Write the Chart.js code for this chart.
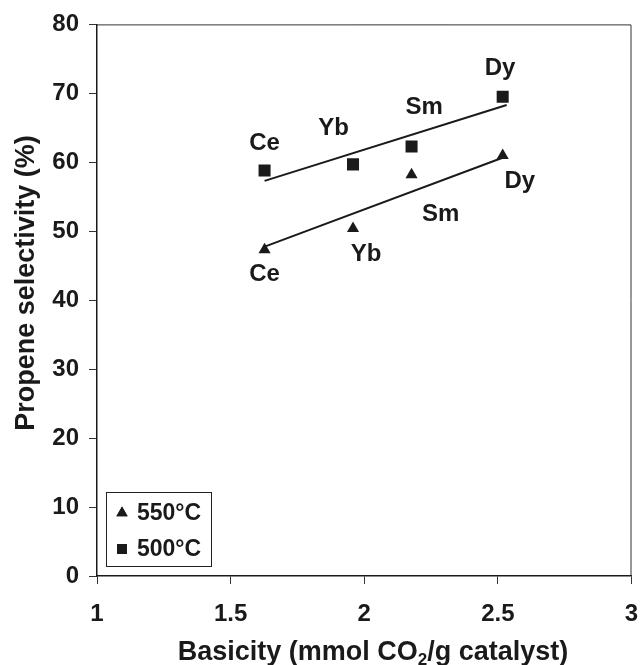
<!DOCTYPE html>
<html>
<head>
<meta charset="utf-8">
<script src="https://cdn.jsdelivr.net/npm/chart.js@4/dist/chart.umd.min.js"></script>
<style>
    html, body { margin: 0; padding: 0; background: #fff; }
    #wrap { width: 640px; height: 665px; }
</style>
</head>
<body>
<div id="wrap"><canvas id="basicityChart"></canvas></div>
<script>
// catalysts and their basicity (mmol CO2/g)
const elements = ["Ce", "Yb", "Sm", "Dy"];
const basicity = [1.627, 1.958, 2.177, 2.518];

// propene selectivity (%) at the two temperatures
const sel550 = [47.3, 50.4, 58.2, 61.0];
const sel500 = [58.8, 59.7, 62.3, 69.5];

// trend line end points
const fitX500 = [1.627, 2.533];
const fitY500 = [57.3, 68.3];
const fitX550 = [1.63, 2.52];
const fitY550 = [47.8, 60.7];

// where the element names sit (data coords)
const labelX500 = [1.627, 1.885, 2.224, 2.508];
const labelY500 = [62.8, 64.9, 68.0, 73.6];
const labelX550 = [1.627, 2.007, 2.286, 2.582];
const labelY550 = [43.7, 46.7, 52.4, 57.2];

const xTicks = [1, 1.5, 2, 2.5, 3];
const yTicks = [0, 10, 20, 30, 40, 50, 60, 70, 80];

const ink = "#1a1a1a";
const fontFamily = "'Liberation Sans', Arial, sans-serif";

const toPoints = (xs, ys) => xs.map((x, i) => ({ x: x, y: ys[i] }));

const extras = {
    id: "extras",
    afterDatasetsDraw(chart) {
        const ctx = chart.ctx;
        const xs = chart.scales.x;
        const ys = chart.scales.y;
        const area = chart.chartArea;
        ctx.save();

        // top and right frame
        ctx.strokeStyle = "#333";
        ctx.lineWidth = 1;
        ctx.beginPath();
        ctx.moveTo(area.left, area.top + 0.5);
        ctx.lineTo(area.right - 0.5, area.top + 0.5);
        ctx.lineTo(area.right - 0.5, area.bottom);
        ctx.stroke();

        // element names
        ctx.fillStyle = ink;
        ctx.font = "bold 24px " + fontFamily;
        ctx.textAlign = "center";
        ctx.textBaseline = "middle";
        elements.forEach((el, i) => {
            ctx.fillText(el, xs.getPixelForValue(labelX500[i]), ys.getPixelForValue(labelY500[i]));
            ctx.fillText(el, xs.getPixelForValue(labelX550[i]), ys.getPixelForValue(labelY550[i]));
        });

        // legend box
        const lx = area.left + 9, ly = area.bottom - 84, lw = 105, lh = 74;
        ctx.fillStyle = "#fff";
        ctx.fillRect(lx, ly, lw, lh);
        ctx.strokeStyle = "#222";
        ctx.lineWidth = 1;
        ctx.strokeRect(lx + 0.5, ly + 0.5, lw, lh);
        ctx.fillStyle = ink;
        ctx.textAlign = "left";
        ctx.font = "bold 23px " + fontFamily;
        chart.data.datasets.slice(0, 2).forEach((ds, i) => {
            const cy = ly + 21 + i * 36;
            Chart.helpers.drawPoint(ctx, {
                pointStyle: ds.pointStyle,
                radius: ds.pointStyle === "triangle" ? 6.5 : 7,
                borderWidth: 0
            }, lx + 16, cy);
            ctx.fill();
            ctx.fillText(ds.label, lx + 31, cy + 1);
        });

        // y axis title
        ctx.save();
        ctx.translate(27, 283);
        ctx.rotate(-Math.PI / 2);
        ctx.textAlign = "center";
        ctx.textBaseline = "middle";
        ctx.font = "bold 27px " + fontFamily;
        ctx.fillText("Propene selectivity (%)", 0, 0);
        ctx.restore();

        // x axis title with subscript
        ctx.textAlign = "left";
        ctx.textBaseline = "alphabetic";
        const mainFont = "bold 27px " + fontFamily;
        const subFont = "bold 17px " + fontFamily;
        const parts = [["Basicity (mmol CO", 0], ["2", 1], ["/g catalyst)", 0]];
        let total = 0;
        parts.forEach(p => {
            ctx.font = p[1] ? subFont : mainFont;
            total += ctx.measureText(p[0]).width;
        });
        let tx = 373 - total / 2;
        const ty = 660;
        parts.forEach(p => {
            ctx.font = p[1] ? subFont : mainFont;
            ctx.fillText(p[0], tx, p[1] ? ty + 5 : ty);
            tx += ctx.measureText(p[0]).width;
        });
        ctx.restore();
    }
};

new Chart(document.getElementById("basicityChart"), {
    type: "scatter",
    data: {
        datasets: [
            {
                label: "550°C",
                data: toPoints(basicity, sel550),
                pointStyle: "triangle",
                pointRadius: 7,
                backgroundColor: ink,
                borderColor: ink,
                borderWidth: 0
            },
            {
                label: "500°C",
                data: toPoints(basicity, sel500),
                pointStyle: "rect",
                pointRadius: 8.5,
                backgroundColor: ink,
                borderColor: ink,
                borderWidth: 0
            },
            {
                label: "fit 550",
                type: "line",
                data: toPoints(fitX550, fitY550),
                borderColor: ink,
                borderWidth: 2,
                pointRadius: 0,
                fill: false
            },
            {
                label: "fit 500",
                type: "line",
                data: toPoints(fitX500, fitY500),
                borderColor: ink,
                borderWidth: 2,
                pointRadius: 0,
                fill: false
            }
        ]
    },
    options: {
        responsive: true,
        maintainAspectRatio: false,
        animation: false,
        layout: { padding: { top: 22, right: 8, left: 0, bottom: 0 } },
        plugins: {
            legend: { display: false },
            tooltip: { enabled: false }
        },
        scales: {
            x: {
                type: "linear",
                min: 1,
                max: 3,
                afterBuildTicks: axis => { axis.ticks = xTicks.map(v => ({ value: v })); },
                afterFit: axis => {
                    axis.height = 89;
                    axis.paddingLeft = 0;
                    axis.paddingRight = 0;
                },
                ticks: {
                    color: ink,
                    padding: 16,
                    maxRotation: 0,
                    font: { family: fontFamily, size: 24, weight: "bold" },
                    callback: v => String(v)
                },
                grid: { drawOnChartArea: false, drawTicks: true, tickLength: 8, color: "#333" },
                border: { color: ink, width: 1.5 }
            },
            y: {
                type: "linear",
                min: 0,
                max: 80,
                afterBuildTicks: axis => { axis.ticks = yTicks.map(v => ({ value: v })); },
                afterFit: axis => { axis.width = 97; },
                ticks: {
                    color: ink,
                    padding: 10,
                    font: { family: fontFamily, size: 24, weight: "bold" },
                    callback: v => String(v)
                },
                grid: { drawOnChartArea: false, drawTicks: true, tickLength: 8, color: "#333" },
                border: { color: ink, width: 1.5 }
            }
        }
    },
    plugins: [extras]
});
</script>
</body>
</html>
